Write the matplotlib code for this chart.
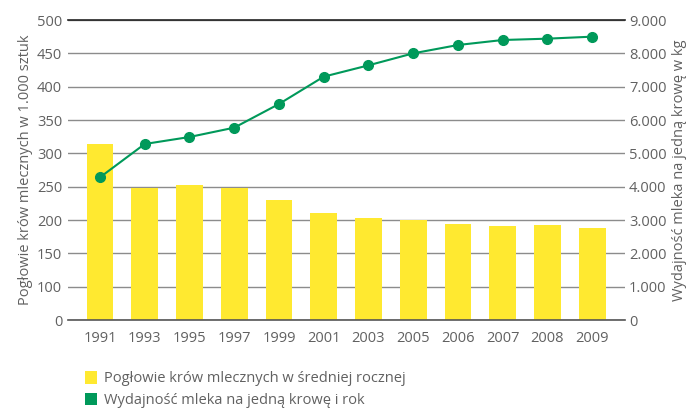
import matplotlib
matplotlib.use("Agg")
import matplotlib.pyplot as plt
from matplotlib.patches import Patch

# =====================================================
# DANE
# =====================================================

lata = ["1991", "1993", "1995", "1997", "1999", "2001",
        "2003", "2005", "2006", "2007", "2008", "2009"]

poglowie = [314, 248, 252, 248, 230, 210, 203, 200, 194, 191, 192, 188]

wydajnosc = [4280, 5280, 5490, 5770, 6480, 7300,
             7640, 8000, 8250, 8400, 8440, 8500]

lewe_ticki = [50, 100, 150, 200, 250, 300, 350, 400, 450, 500]
lewe_etykiety = ["0", "100", "150", "200", "250", "300", "350", "400", "450", "500"]

prawe_ticki = [0, 1000, 2000, 3000, 4000, 5000, 6000, 7000, 8000, 9000]
prawe_etykiety = ["0", "1.000", "2.000", "3.000", "4.000",
                  "5.000", "6.000", "7.000", "8.000", "9.000"]

ZOLTY = "#FFE930"
ZIELONY = "#00995A"
SZARY_TEKST = "#616161"
ROZMIAR = 10.5

plt.rcParams["font.family"] = ["Open Sans", "DejaVu Sans"]

# =====================================================
# WYKRES
# =====================================================

fig = plt.figure(figsize=(6.89, 4.09), dpi=100)
ax = fig.add_axes([0.0983, 0.2176, 0.8087, 0.7335])

x = list(range(len(lata)))

ax.bar(x, poglowie, width=0.6, color=ZOLTY, zorder=2)

ax.set_ylim(50, 500)
ax.set_xlim(-0.72, len(lata) - 0.27)
ax.set_yticks(lewe_ticki)
ax.set_yticklabels(lewe_etykiety)
ax.set_xticks(x)
ax.set_xticklabels(lata)

ax.grid(axis="y", color="#8c8c8c", linewidth=1.0, zorder=0)
ax.set_axisbelow(True)

for strona in ["left", "right"]:
    ax.spines[strona].set_visible(False)
ax.spines["top"].set_color("#222222")
ax.spines["top"].set_linewidth(1.2)
ax.spines["bottom"].set_color("#555555")
ax.spines["bottom"].set_linewidth(1.2)

ax.tick_params(axis="y", length=0, pad=4, labelsize=ROZMIAR, labelcolor=SZARY_TEKST)
ax.tick_params(axis="x", length=0, pad=8, labelsize=ROZMIAR, labelcolor=SZARY_TEKST)

ax.set_ylabel("Pogłowie krów mlecznych w 1.000 sztuk",
              fontsize=ROZMIAR, color=SZARY_TEKST, labelpad=3)

ax2 = ax.twinx()
ax2.plot(x, wydajnosc, color=ZIELONY, linewidth=1.5,
         marker="o", markersize=7, zorder=3)
ax2.set_ylim(0, 9000)
ax2.set_yticks(prawe_ticki)
ax2.set_yticklabels(prawe_etykiety)
for strona in ["left", "right", "top", "bottom"]:
    ax2.spines[strona].set_visible(False)
ax2.tick_params(axis="y", length=0, pad=3, labelsize=ROZMIAR, labelcolor=SZARY_TEKST)
ax2.set_ylabel("Wydajność mleka na jedną krowę w kg", rotation=90,
               fontsize=ROZMIAR, color=SZARY_TEKST, labelpad=4)

# legenda
uchwyty = [
    Patch(facecolor=ZOLTY, edgecolor="none",
          label="Pogłowie krów mlecznych w średniej rocznej"),
    Patch(facecolor=ZIELONY, edgecolor="none",
          label="Wydajność mleka na jedną krowę i rok"),
]
leg = fig.legend(handles=uchwyty, loc="upper left",
                 bbox_to_anchor=(0.123, 0.093), frameon=False,
                 handlelength=0.85, handleheight=0.95, handletextpad=0.5,
                 labelspacing=0.45, fontsize=ROZMIAR, borderaxespad=0,
                 borderpad=0)
for t in leg.get_texts():
    t.set_color(SZARY_TEKST)

fig.savefig("out.png", dpi=100)
